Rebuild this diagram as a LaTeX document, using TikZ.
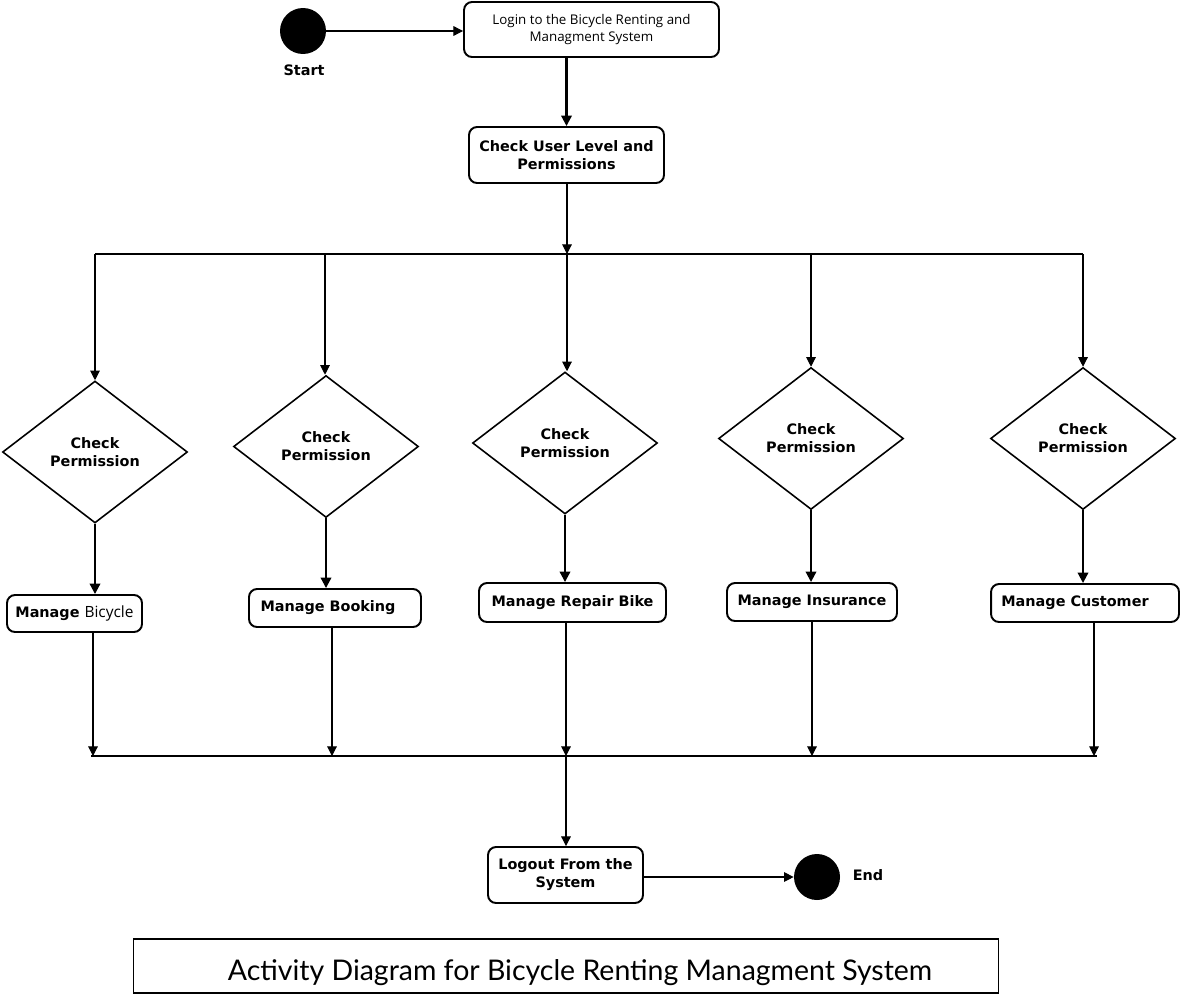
\documentclass[tikz,border=0pt]{standalone}
\usepackage{fontspec}
\setmainfont{DejaVu Sans}
\newfontfamily\plainfont{Open Sans}
\newfontfamily\titlefont{Lato}
\usetikzlibrary{shapes.geometric,arrows.meta}

\tikzset{
	act/.style={shape=rectangle, draw, rounded corners=0.16cm, line width=1.1pt, align=center, inner sep=0pt, font=\fontsize{8.2}{10.2}\selectfont\bfseries},
	decision/.style={shape=diamond, draw, line width=0.9pt, aspect=1.3, minimum width=3.7cm, minimum height=2.84cm, inner sep=0pt, align=center, font=\fontsize{8.2}{10.2}\selectfont\bfseries},
	dot/.style={shape=circle, fill=black, minimum size=0.92cm, inner sep=0pt},
	lbl/.style={font=\fontsize{8.2}{10}\selectfont\bfseries},
	flow/.style={-{Triangle[length=5.5pt,width=5.5pt]}, line width=0.6pt},
	heavyflow/.style={-{Triangle[length=6pt,width=6pt]}, line width=1.2pt},
	bar/.style={line width=1.3pt}
}

\begin{document}
\begin{tikzpicture}[x=0.02cm, y=-0.02cm]
	\useasboundingbox (0,0) rectangle (1182,994);

	\node (start) at (303,31) [dot] {};
	\node (startlbl) at (304,70) [lbl] {Start};
	\node (login) at (591.5,29.5) [act, minimum width=5.1cm, minimum height=1.1cm, font=\fontsize{7.6}{9.6}\selectfont\plainfont] {Login to the Bicycle Renting and\\Managment System};
	\node (chk) at (566.5,155) [act, minimum width=3.9cm, minimum height=1.12cm] {Check User Level and\\Permissions};

	\coordinate (forkL) at (95,254);
	\coordinate (forkR) at (1083,254);
	\coordinate (f1) at (95,254);
	\coordinate (f2) at (325,254);
	\coordinate (f3) at (567,254);
	\coordinate (f4) at (811,254);
	\coordinate (f5) at (1083,254);

	\node (d1) at (95,452) [decision] {Check\\Permission};
	\node (d2) at (326,446.5) [decision] {Check\\Permission};
	\node (d3) at (565,443) [decision] {Check\\Permission};
	\node (d4) at (811,438.5) [decision] {Check\\Permission};
	\node (d5) at (1083,438.5) [decision] {Check\\Permission};

	\node (a1) at (74.5,613.5) [act, minimum width=2.7cm, minimum height=0.74cm] {Manage {\mdseries\plainfont\fontsize{8.8}{10}\selectfont Bicycle}};
	\node (a2) at (335,608) [act, minimum width=3.44cm, minimum height=0.76cm] {Manage Booking\hspace{0.28cm}};
	\node (a3) at (572.5,602.5) [act, minimum width=3.74cm, minimum height=0.78cm] {Manage Repair Bike};
	\node (a4) at (812,602) [act, minimum width=3.4cm, minimum height=0.76cm] {Manage Insurance};
	\node (a5) at (1085,603) [act, minimum width=3.76cm, minimum height=0.76cm] {Manage Customer\hspace{0.4cm}};

	\coordinate (joinL) at (91,756);
	\coordinate (joinR) at (1097,756);
	\coordinate (j1) at (93,756);
	\coordinate (j2) at (332,756);
	\coordinate (j3) at (566,756);
	\coordinate (j4) at (812,756);
	\coordinate (j5) at (1094,756);

	\node (logout) at (565.5,875) [act, minimum width=3.1cm, minimum height=1.12cm] {Logout From the\\System};
	\node (end) at (817,877) [dot] {};
	\node (endlbl) at (868,875) [lbl] {End};

	\node (title) at (566,966) [shape=rectangle, draw, line width=0.6pt, minimum width=17.32cm, minimum height=1.08cm, text height=0.56cm, text depth=0cm, font=\fontsize{16.2}{20}\selectfont\titlefont] {\hspace*{0.56cm}Activity Diagram for Bicycle Renting Managment System};

	\draw [bar] (forkL) -- (forkR);
	\draw [bar] (joinL) -- (joinR);

	\path	[flow]	(start)	edge	(start -| login.west)
			(chk.south -| f3)	edge	(f3)
			(f1)	edge	(f1 |- d1.north)
			(f2)	edge	(f2 |- d2.north)
			(f3)	edge	(f3 |- d3.north)
			(f4)	edge	(f4 |- d4.north)
			(f5)	edge	(f5 |- d5.north)
			(a1.south -| j1)	edge	(j1)
			(a2.south -| j2)	edge	(j2)
			(a3.south -| j3)	edge	(j3)
			(a4.south -| j4)	edge	(j4)
			(a5.south -| j5)	edge	(j5)
			(j3)	edge	(j3 |- logout.north)
			(logout.east |- end)	edge	(end);

	\path	[heavyflow]	(login.south -| chk)	edge	(chk)
			(d1)	edge	(d1.south |- a1.north)
			(d2)	edge	(d2.south |- a2.north)
			(d3)	edge	(d3.south |- a3.north)
			(d4)	edge	(d4.south |- a4.north)
			(d5)	edge	(d5.south |- a5.north);
\end{tikzpicture}
\end{document}
